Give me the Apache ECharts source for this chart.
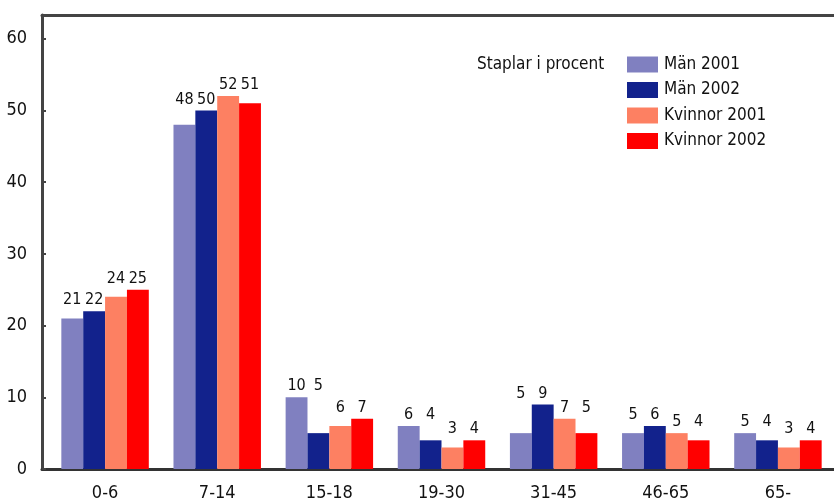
<!DOCTYPE html>
<html>
<head>
<meta charset="utf-8">
<script src="https://cdn.jsdelivr.net/npm/echarts@6/dist/echarts.min.js"></script>
<style>
  html, body { margin: 0; padding: 0; background: #fff; }
  #chart { width: 834px; height: 502px; }
</style>
</head>
<body>
<div id="chart"></div>
<script>
// Age groups and shares (percent) per group
const categories = ['0-6', '7-14', '15-18', '19-30', '31-45', '46-65', '65-'];
const man2001 = [21, 48, 10, 6, 5, 5, 5];
const man2002 = [22, 50, 5, 4, 9, 6, 4];
const kvinnor2001 = [24, 52, 6, 3, 7, 5, 3];
const kvinnor2002 = [25, 51, 7, 4, 5, 4, 4];
const seriesNames = ['Män 2001', 'Män 2002', 'Kvinnor 2001', 'Kvinnor 2002'];
const seriesValues = [man2001, man2002, kvinnor2001, kvinnor2002];
const colors = ['#8080c0', '#12228c', '#fd8062', '#ff0000'];
const yTicks = [0, 10, 20, 30, 40, 50, 60];

const FONT = '"Liberation Sans Narrow", "Arial Narrow", "DejaVu Sans Condensed", sans-serif';
const Y_MAX = 63.3;
const AXIS_COLOR = '#444';

const chart = echarts.init(document.getElementById('chart'), null, { renderer: 'canvas' });

function buildSeries(offsets) {
  return seriesValues.map((vals, i) => ({
    name: seriesNames[i],
    type: 'bar',
    xAxisIndex: 0,
    yAxisIndex: 0,
    barGap: '0%',
    barCategoryGap: '22%',
    itemStyle: { color: colors[i] },
    label: {
      show: true,
      position: 'top',
      distance: 3,
      color: '#111',
      fontFamily: FONT,
      fontSize: 16
    },
    data: vals.map((v, j) => offsets
      ? { value: v, label: { offset: [0, offsets[i][j]] } }
      : v)
  }));
}

const option = {
  animation: false,
  backgroundColor: '#fff',
  textStyle: { fontFamily: FONT },
  title: {
    text: 'Staplar i procent',
    left: 472,
    top: 51,
    textStyle: { fontFamily: FONT, fontSize: 17, fontWeight: 'normal', color: '#111' }
  },
  legend: {
    data: seriesNames,
    orient: 'vertical',
    left: 622,
    top: 51,
    itemWidth: 31,
    itemHeight: 16,
    itemGap: 8.5,
    icon: 'rect',
    textStyle: { fontFamily: FONT, fontSize: 17, color: '#111', lineHeight: 17, padding: [0, 0, 0, 1] }
  },
  grid: [
    // bars
    { left: 49, right: 0, top: 15, bottom: 33 },
    // frame: left value axis, top rule and baseline
    { left: 42, right: 0, top: 15, bottom: 33 }
  ],
  xAxis: [
    {
      type: 'category',
      gridIndex: 0,
      data: categories,
      axisLine: { show: false },
      axisTick: { show: false },
      axisLabel: { fontFamily: FONT, fontSize: 18, color: '#111', margin: 15 }
    },
    {
      type: 'value',
      gridIndex: 1,
      min: 0,
      max: 1,
      position: 'bottom',
      axisLine: { show: true, onZero: false, lineStyle: { color: '#333', width: 3 } },
      axisTick: { show: false },
      axisLabel: { show: false },
      splitLine: { show: false }
    },
    {
      type: 'value',
      gridIndex: 1,
      min: 0,
      max: 1,
      position: 'top',
      axisLine: { show: true, onZero: false, lineStyle: { color: AXIS_COLOR, width: 3 } },
      axisTick: { show: false },
      axisLabel: { show: false },
      splitLine: { show: false }
    }
  ],
  yAxis: [
    {
      type: 'value',
      gridIndex: 0,
      min: 0,
      max: Y_MAX,
      show: false,
      splitLine: { show: false }
    },
    {
      type: 'value',
      gridIndex: 1,
      min: yTicks[0],
      max: Y_MAX,
      interval: yTicks[1] - yTicks[0],
      axisLine: { show: true, onZero: false, lineStyle: { color: AXIS_COLOR, width: 3 } },
      axisTick: { show: true, inside: true, length: 4, lineStyle: { color: AXIS_COLOR, width: 2 } },
      axisLabel: {
        fontFamily: FONT, fontSize: 18, color: '#111', margin: 15,
        showMaxLabel: false,
        formatter: v => (yTicks.indexOf(v) >= 0 ? String(v) : '')
      },
      splitLine: { show: false }
    }
  ],
  series: buildSeries(null)
};

chart.setOption(option);

// Value labels of each pair of bars (men / women) sit level, above the taller bar of the pair
const offsets = seriesValues.map((vals, i) => {
  const pair = i < 2 ? [0, 1] : [2, 3];
  return vals.map((v, j) => {
    const top = Math.max(seriesValues[pair[0]][j], seriesValues[pair[1]][j]);
    const yTop = chart.convertToPixel({ yAxisIndex: 0 }, top);
    const yOwn = chart.convertToPixel({ yAxisIndex: 0 }, v);
    return yTop - yOwn;
  });
});
chart.setOption({ series: buildSeries(offsets) });
</script>
</body>
</html>
